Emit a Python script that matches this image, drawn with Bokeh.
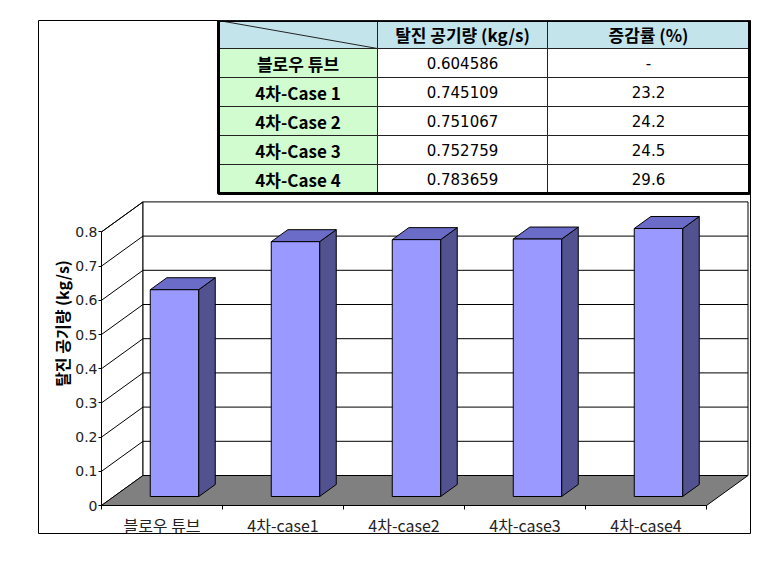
import math
from bokeh.plotting import figure
from bokeh.models import Range1d, LinearAxis, FixedTicker, NumeralTickFormatter, Label
from bokeh.core.properties import value
from bokeh.embed import file_html
from bokeh.resources import INLINE

# ---------------- data ----------------
categories = ["블로우 튜브", "4차-case1", "4차-case2", "4차-case3", "4차-case4"]
flow = [0.604586, 0.745109, 0.751067, 0.752759, 0.783659]
y_ticks = [0, 0.1, 0.2, 0.3, 0.4, 0.5, 0.6, 0.7, 0.8]
y_title = "탈진 공기량 (kg/s)"

table_header = ["탈진 공기량 (kg/s)", "증감률 (%)"]
table_rows = ["블로우 튜브", "4차-Case 1", "4차-Case 2", "4차-Case 3", "4차-Case 4"]
table_flow = ["0.604586", "0.745109", "0.751067", "0.752759", "0.783659"]
table_rate = ["-", "23.2", "24.2", "24.5", "29.6"]

# ---------------- layout (page pixels) ----------------
PAGE_M = 0                                 # bokeh's page template has no body margin
OX, OY, OR, OB = 38, 20, 750, 533          # outer chart box
AX0, CW = 101, 121                         # x origin of category axis, px per category
AY0, VS = 505, 342                         # y origin of value axis, px per 1.0
DXP, DYP = 41.5, 30                        # 3-D depth offset (px)
DX, DY = DXP / CW, DYP / VS                # depth offset in data units
BW = 0.4                                   # bar width (category units)
BF, BD = 0.3, 0.4                          # bar front depth fraction, bar depth fraction
VMAX = y_ticks[-1]
N = len(categories)

FONT = "Noto Sans CJK KR"
NUMFONT = "DejaVu Sans"
FRONT, TOPC, SIDE = "#9999FF", "#6B6BC8", "#525290"
HEAD_FILL, ROW_FILL = "#C4E4EC", "#D0FCD0"

p = figure(
    width=(OX - PAGE_M) + (OR - OX) + 12,
    height=(OY - PAGE_M) + (OB - OY) + 20,
    x_range=Range1d((OX - AX0) / CW, (OR - AX0) / CW),
    y_range=Range1d((AY0 - OB) / VS, (AY0 - OY) / VS),
    x_axis_type=None, y_axis_type=None,
    output_backend="svg", toolbar_location=None,
    min_border=0,
    min_border_left=OX - PAGE_M, min_border_top=OY - PAGE_M,
    min_border_right=12, min_border_bottom=20,
)
p.title.visible = False
p.extra_x_ranges = {"px": Range1d(OX, OR)}
p.extra_y_ranges = {"px": Range1d(OB, OY)}
p.outline_line_color = "black"
p.outline_line_width = 1
p.background_fill_color = "white"
p.border_fill_color = "white"

# ---------------- 3-D walls and floor ----------------
p.patch([0, 0, DX, DX], [0, VMAX, VMAX + DY, DY], fill_color="white",
        line_color="black", line_width=1)
p.quad(left=[DX], right=[N + DX], bottom=[DY], top=[VMAX + DY],
       fill_color="white", line_color="black", line_width=1)
p.patch([0, N, N + DX, DX], [0, 0, DY, DY], fill_color="#808080",
        line_color="black", line_width=1)
p.multi_line([[0, DX] for v in y_ticks[1:]], [[v, v + DY] for v in y_ticks[1:]],
             line_color="black", line_width=1)
p.multi_line([[DX, N + DX] for v in y_ticks[1:-1]],
             [[v + DY, v + DY] for v in y_ticks[1:-1]],
             line_color="black", line_width=1)

# ---------------- bars ----------------
x0s = [i + 0.5 - BW / 2 + BF * DX for i in range(N)]
x1s = [x + BW for x in x0s]
b0 = BF * DY
tops = [b0 + v for v in flow]
ddx, ddy = BD * DX, BD * DY

side_xs = [[x1, x1 + ddx, x1 + ddx, x1] for x1 in x1s]
side_ys = [[b0, b0 + ddy, t + ddy, t] for t in tops]
p.patches(side_xs, side_ys, fill_color=SIDE, line_color="black", line_width=1)

top_xs = [[x0, x1, x1 + ddx, x0 + ddx] for x0, x1 in zip(x0s, x1s)]
top_ys = [[t, t, t + ddy, t + ddy] for t in tops]
p.patches(top_xs, top_ys, fill_color=TOPC, line_color="black", line_width=1)

p.quad(left=x0s, right=x1s, bottom=[b0] * N, top=tops,
       fill_color=FRONT, line_color="black", line_width=1)

# ---------------- axes ----------------
yaxis = LinearAxis(fixed_location=0, ticker=FixedTicker(ticks=y_ticks),
                   formatter=NumeralTickFormatter(format="0.[0]"),
                   bounds=(0, VMAX))
yaxis.axis_line_color = "black"
yaxis.major_tick_line_color = "black"
yaxis.major_tick_out = 3
yaxis.major_tick_in = 0
yaxis.minor_tick_line_color = None
yaxis.major_label_standoff = 1
yaxis.major_label_text_font = NUMFONT
yaxis.major_label_text_font_size = "14px"
yaxis.major_label_text_color = "#222222"
p.add_layout(yaxis, "left")

centers = [i + 0.5 for i in range(N)]
xaxis = LinearAxis(fixed_location=0,
                   ticker=FixedTicker(ticks=centers, minor_ticks=list(range(N + 1))),
                   major_label_overrides={c: name for c, name in zip(centers, categories)},
                   bounds=(0, N))
xaxis.axis_line_color = "black"
xaxis.major_tick_line_color = None
xaxis.major_tick_out = 0
xaxis.major_tick_in = 0
xaxis.minor_tick_line_color = "black"
xaxis.minor_tick_out = 4
xaxis.minor_tick_in = 0
xaxis.major_label_standoff = 3
xaxis.major_label_text_font = FONT
xaxis.major_label_text_font_size = "16px"
xaxis.major_label_text_color = "#222222"
p.add_layout(xaxis, "below")

p.add_layout(Label(x=61, y=323, x_range_name="px", y_range_name="px",
                   text=y_title, angle=math.pi / 2, text_align="center",
                   text_baseline="middle", text_font=FONT, text_font_size="16px",
                   text_font_style="bold", text_color="black"))

# ---------------- table ----------------
col_x = [218, 377, 547, 749]
row_y = [20, 48, 77, 106, 135, 164, 193]
cl, cr, cb, ct, cf = [], [], [], [], []
for r in range(len(row_y) - 1):
    for c in range(len(col_x) - 1):
        cl.append(col_x[c]); cr.append(col_x[c + 1])
        ct.append(row_y[r]); cb.append(row_y[r + 1])
        cf.append(HEAD_FILL if r == 0 else (ROW_FILL if c == 0 else "white"))
p.quad(left=cl, right=cr, top=ct, bottom=cb, fill_color=cf, line_color="#222222",
       line_width=1, x_range_name="px", y_range_name="px")
p.segment(x0=[col_x[0]], y0=[row_y[0]], x1=[col_x[1]], y1=[row_y[1]],
          line_color="#222222", line_width=1, x_range_name="px", y_range_name="px")
p.quad(left=[col_x[0]], right=[col_x[-1]], top=[row_y[0]], bottom=[row_y[-1]],
       fill_color=None, line_color="black", line_width=3,
       x_range_name="px", y_range_name="px")

col_c = [(col_x[i] + col_x[i + 1]) / 2 for i in range(3)]
row_c = [(row_y[i] + row_y[i + 1]) / 2 for i in range(len(row_y) - 1)]

p.text(x=col_c[1:], y=[row_c[0]] * 2, text=table_header, text_align="center",
       text_baseline="middle", text_font=value(FONT), text_font_size="17px",
       text_font_style="bold", text_color="black", x_range_name="px", y_range_name="px")
p.text(x=[col_c[0]] * len(table_rows), y=row_c[1:], text=table_rows, text_align="center",
       text_baseline="middle", text_font=value(FONT), text_font_size="17px",
       text_font_style="bold", text_color="black", x_range_name="px", y_range_name="px")
p.text(x=[col_c[1]] * len(table_flow), y=row_c[1:], text=table_flow, text_align="center",
       text_baseline="middle", text_font=value(NUMFONT), text_font_size="15px",
       text_color="black", x_range_name="px", y_range_name="px")
p.text(x=[col_c[2]] * len(table_rate), y=row_c[1:], text=table_rate, text_align="center",
       text_baseline="middle", text_font=value(NUMFONT), text_font_size="15px",
       text_color="black", x_range_name="px", y_range_name="px")

open("out.html", "w").write(file_html(p, INLINE))
